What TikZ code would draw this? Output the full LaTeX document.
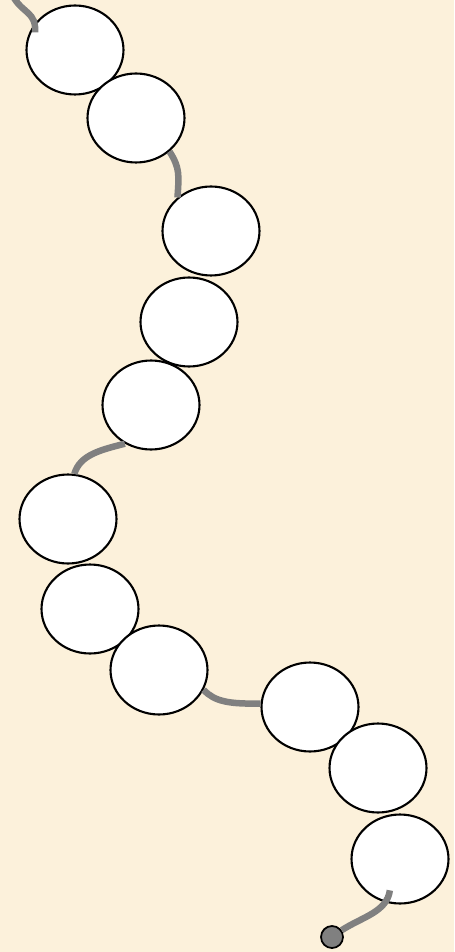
\documentclass[tikz,border=0pt]{standalone}
\usetikzlibrary{shapes.geometric}
\definecolor{parchment}{RGB}{252,241,219}
\definecolor{strandgray}{RGB}{128,128,128}
\begin{document}
\begin{tikzpicture}[x=0.02cm, y=0.02cm,
    bead/.style={ellipse, draw=black, line width=1.2pt, fill=white, minimum width=1.94cm, minimum height=1.78cm, inner sep=0pt},
    strand/.style={draw=strandgray, line width=0.13cm}]
    \fill[parchment] (0,0) rectangle (454,-952);
    \useasboundingbox (0,0) rectangle (454,-952);

    % beads
    \node[bead] (b1) at (75,-50) {};
    \node[bead] (b2) at (136,-118) {};
    \node[bead] (b3) at (211,-231) {};
    \node[bead] (b4) at (189,-322) {};
    \node[bead] (b5) at (151,-405) {};
    \node[bead] (b6) at (68,-519) {};
    \node[bead] (b7) at (90,-609) {};
    \node[bead] (b8) at (159,-670) {};
    \node[bead] (b9) at (310,-707) {};
    \node[bead] (b10) at (378,-768) {};
    \node[bead] (b11) at (400,-859) {};
    \node[circle, draw=black, fill=strandgray, line width=1pt, minimum size=0.44cm, inner sep=0pt] (tail) at (332,-937) {};
    \coordinate (top) at (14,2);

    % strands
    \draw[strand, shorten >=-0.2cm] (top) .. controls (24,-14) and (36,-12) .. (b1.145);
    \draw[strand] (b2.-45) .. controls (180,-168) and (179,-175) .. (b3.135);
    \draw[strand] (b5.-124) .. controls (100,-450) and (80,-455) .. (b6.82);
    \draw[strand] (b8.-24) .. controls (215,-702) and (230,-704) .. (b9.176);
    \draw[strand, shorten <=-0.26cm] (b11.-105) .. controls (387,-912) and (362,-917) .. (tail.35);
\end{tikzpicture}
\end{document}
